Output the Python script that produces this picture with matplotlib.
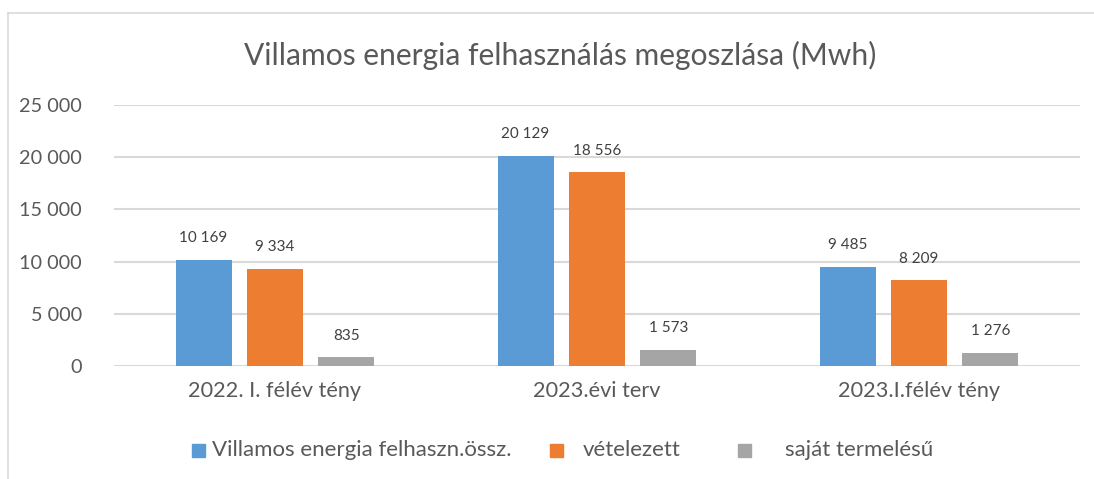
import numpy as np
import matplotlib.pyplot as plt
from matplotlib.patches import Rectangle
from matplotlib.lines import Line2D
from matplotlib.ticker import FuncFormatter

plt.rcParams["font.family"] = ["Lato", "DejaVu Sans"]

categories = ["2022. I. félév tény", "2023.évi terv", "2023.I.félév tény"]
series_names = ["Villamos energia felhaszn.össz.", "vételezett", "saját termelésű"]
felhasznalas = [10169, 20129, 9485]
vetelezett = [9334, 18556, 8209]
sajat = [835, 1573, 1276]
colors = ["#5b9bd5", "#ed7d31", "#a5a5a5"]
TEXT = "#595959"
GRID = "#d9d9d9"


def hu_fmt(v, pos=None):
    return f"{int(round(v)):,}".replace(",", " ")


fig = plt.figure(figsize=(10.94, 4.79), dpi=100)
ax = fig.add_axes([114 / 1094, 1 - 366 / 479, (1080 - 114) / 1094, (366 - 105) / 479])

x = np.arange(len(categories))
width = 0.174
step = 0.222
for i, (vals, col) in enumerate(zip([felhasznalas, vetelezett, sajat], colors)):
    bars = ax.bar(x + (i - 1) * step, vals, width, color=col, zorder=3)
    for b, v in zip(bars, vals):
        ax.text(b.get_x() + b.get_width() / 2, v + 1400, hu_fmt(v),
                ha="center", va="bottom", fontsize=11, color="#404040")

ax.set_xlim(-0.5, 2.5)
ax.set_ylim(0, 25000)
ax.set_yticks(np.arange(0, 25001, 5000))
ax.yaxis.set_major_formatter(FuncFormatter(hu_fmt))
ax.set_xticks(x)
ax.set_xticklabels(categories, fontsize=15.6)
ax.tick_params(axis="both", length=0, colors=TEXT)
ax.tick_params(axis="y", pad=23, labelsize=14.3)
ax.tick_params(axis="x", pad=11)
ax.grid(axis="y", color=GRID, linewidth=1.5, zorder=0)
for s in ax.spines.values():
    s.set_visible(False)

fig.text(560 / 1094, 1 - 55 / 479, "Villamos energia felhasználás megoszlása (Mwh)",
         ha="center", va="center", fontsize=21.6, color=TEXT)

# legend, placed by hand like the Excel one
sq = [(192, 212), (550, 583), (738, 785)]
for (sx, tx), name, col in zip(sq, series_names, colors):
    fig.patches.append(Rectangle((sx / 1094, 1 - 457 / 479), 13 / 1094, 13 / 479,
                                 transform=fig.transFigure, color=col))
    fig.text(tx / 1094, 1 - 450 / 479, name, ha="left", va="center",
             fontsize=16, color=TEXT)

# outer chart border (partly cropped)
fig.lines.append(Line2D([8 / 1094, 8 / 1094], [0, 1 - 13 / 479], transform=fig.transFigure,
                        color=GRID, linewidth=1.2))
fig.lines.append(Line2D([8 / 1094, 1], [1 - 13 / 479, 1 - 13 / 479], transform=fig.transFigure,
                        color=GRID, linewidth=1.2))

fig.savefig("out.png", dpi=100)
